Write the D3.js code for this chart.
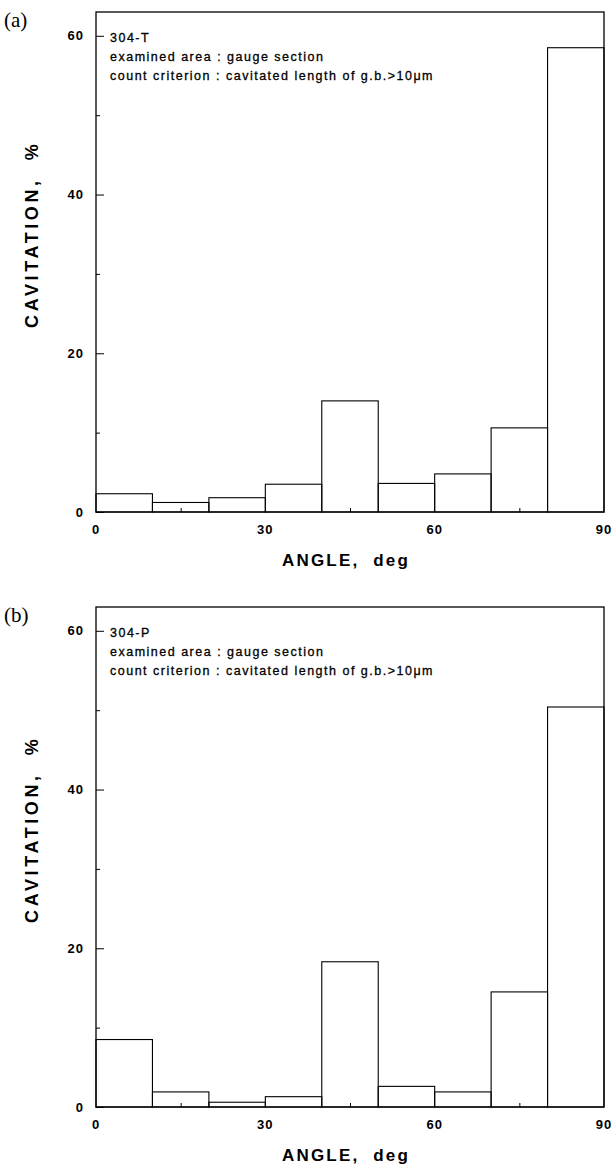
<!DOCTYPE html>
<html>
<head>
<meta charset="utf-8">
<script src="https://cdn.jsdelivr.net/npm/d3@7"></script>
<style>
  body { margin: 0; background: #fff; }
  text { fill: #000; }
</style>
</head>
<body>
<div id="mainContainer"></div>
<script>
const binStarts = [0, 10, 20, 30, 40, 50, 60, 70, 80];
const binWidth = 10;
const valuesT = [2.3, 1.2, 1.8, 3.5, 14.0, 3.6, 4.8, 10.6, 58.5];
const valuesP = [8.5, 1.9, 0.6, 1.3, 18.3, 2.6, 1.9, 14.5, 50.4];
const xTicks = [0, 30, 60, 90];
const xMinor = [15, 45, 75];
const yTicks = [0, 20, 40, 60];
const yMinor = [10, 30, 50];

const panels = [
  { tag: '(a)', name: '304-T', values: valuesT, offset: 0 },
  { tag: '(b)', name: '304-P', values: valuesP, offset: 595 },
];

const width = 615;
const height = 1167;
const margin = { top: 12, left: 96, right: 11 };
const plotH = 500;
const sans = '"Liberation Sans", Arial, sans-serif';

const svg = d3.select('#mainContainer')
  .append('svg')
  .attr('width', width)
  .attr('height', height)
  .style('font-family', sans);

const x = d3.scaleLinear()
  .domain([0, 90])
  .range([margin.left, width - margin.right]);

const y = d3.scaleLinear()
  .domain([0, 63])
  .range([margin.top + plotH, margin.top]);

panels.forEach(p => {
  const g = svg.append('g').attr('transform', `translate(0,${p.offset})`);

  // bars
  g.append('g')
    .selectAll('rect')
    .data(p.values)
    .join('rect')
      .attr('x', (d, i) => x(binStarts[i]))
      .attr('y', d => y(d))
      .attr('width', (d, i) => x(binStarts[i] + binWidth) - x(binStarts[i]))
      .attr('height', d => y(0) - y(d))
      .attr('fill', 'none')
      .attr('stroke', '#000')
      .attr('stroke-width', 1.1);

  // frame
  g.append('rect')
    .attr('x', x(0)).attr('y', y(63))
    .attr('width', x(90) - x(0)).attr('height', y(0) - y(63))
    .attr('fill', 'none').attr('stroke', '#000').attr('stroke-width', 1.3);

  // y axis, ticks inward
  g.append('g')
    .attr('transform', `translate(${x(0)},0)`)
    .call(d3.axisRight(y).tickValues(yTicks).tickSize(8).tickFormat(''))
    .select('.domain').remove();
  g.append('g')
    .attr('transform', `translate(${x(0)},0)`)
    .call(d3.axisRight(y).tickValues(yMinor).tickSize(4).tickFormat(''))
    .select('.domain').remove();

  g.append('g')
    .selectAll('text')
    .data(yTicks)
    .join('text')
      .attr('x', x(0) - 12)
      .attr('y', d => y(d))
      .attr('dy', '0.35em')
      .attr('text-anchor', 'end')
      .attr('font-size', 13)
      .attr('font-weight', 'bold')
      .attr('letter-spacing', 1)
      .text(d => d);

  // x axis, ticks inward
  g.append('g')
    .attr('transform', `translate(0,${y(0)})`)
    .call(d3.axisTop(x).tickValues(xMinor).tickSize(4).tickFormat(''))
    .select('.domain').remove();

  g.append('g')
    .selectAll('text')
    .data(xTicks)
    .join('text')
      .attr('x', d => x(d))
      .attr('y', y(0) + 22)
      .attr('text-anchor', 'middle')
      .attr('font-size', 13)
      .attr('font-weight', 'bold')
      .attr('letter-spacing', 1)
      .text(d => d);

  // axis titles
  g.append('text')
    .attr('x', 346).attr('y', y(0) + 54)
    .attr('text-anchor', 'middle')
    .attr('font-size', 17).attr('font-weight', 'bold')
    .attr('letter-spacing', 2.2)
    .attr('xml:space', 'preserve')
    .text('ANGLE,  deg');

  g.append('text')
    .attr('transform', `translate(38,${y(35)}) rotate(-90)`)
    .attr('text-anchor', 'middle')
    .attr('font-size', 18).attr('font-weight', 'bold')
    .attr('letter-spacing', 3.6)
    .attr('xml:space', 'preserve')
    .text('CAVITATION,  %');

  // panel tag
  g.append('text')
    .attr('x', 4).attr('y', 27)
    .style('font-family', '"Liberation Serif", "Times New Roman", serif')
    .attr('font-size', 21)
    .text(p.tag);

  // annotation
  const notes = [p.name, 'examined area : gauge section', 'count criterion : cavitated length of g.b.>10\u03bcm'];
  g.append('g')
    .selectAll('text')
    .data(notes)
    .join('text')
      .attr('x', 110)
      .attr('y', (d, i) => 42 + i * 19)
      .attr('font-size', 12.5)
      .attr('letter-spacing', 1.5)
      .attr('stroke', '#000')
      .attr('stroke-width', 0.3)
      .text(d => d);
});
</script>
</body>
</html>
